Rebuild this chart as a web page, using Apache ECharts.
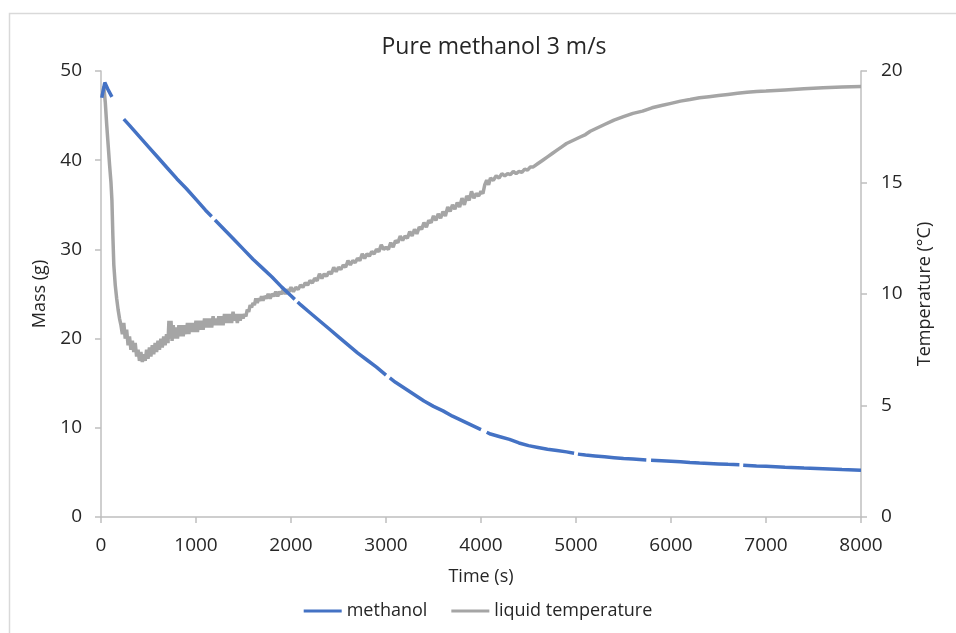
<!DOCTYPE html>
<html>
<head>
<meta charset="utf-8">
<title>Pure methanol 3 m/s</title>
<script src="https://cdn.jsdelivr.net/npm/echarts@6/dist/echarts.min.js"></script>
<style>
  html, body { margin: 0; padding: 0; background: #fff; }
  #chart { width: 956px; height: 633px; }
</style>
</head>
<body>
<div id="chart"></div>
<script>
// Axis ticks
const timeTicks = [0, 1000, 2000, 3000, 4000, 5000, 6000, 7000, 8000];
const massTicks = [0, 10, 20, 30, 40, 50];
const tempTicks = [0, 5, 10, 15, 20];

// Methanol mass (g) against time (s); null marks a logging gap
const methanolMass = [
  [8, 47.0], [40, 48.7], [70, 48.0], [115, 47.1], [170, null],
  [240, 44.6], [300, 43.9], [400, 42.7], [500, 41.5], [600, 40.3],
  [700, 39.1], [800, 37.9], [900, 36.8], [1000, 35.6], [1100, 34.4],
  [1165, 33.7], [1180, null], [1200, 33.3], [1300, 32.2], [1400, 31.1],
  [1500, 30.0], [1600, 28.9], [1700, 27.9], [1800, 26.9], [1900, 25.8],
  [2000, 24.8], [2040, 24.4], [2055, null], [2070, 24.1], [2100, 23.8],
  [2200, 22.9], [2300, 22.0], [2400, 21.1], [2500, 20.2], [2600, 19.3],
  [2700, 18.4], [2800, 17.6], [2900, 16.8], [3000, 15.9], [3015, null],
  [3040, 15.6], [3100, 15.1], [3200, 14.4], [3300, 13.7], [3400, 13.0],
  [3500, 12.4], [3600, 11.9], [3700, 11.3], [3800, 10.8], [3900, 10.3],
  [4000, 9.8], [4020, null], [4060, 9.5], [4100, 9.3], [4200, 9.0],
  [4300, 8.7], [4400, 8.3], [4500, 8.0], [4600, 7.8], [4700, 7.6],
  [4800, 7.45], [4900, 7.3], [4980, 7.15], [4995, null], [5020, 7.05],
  [5100, 6.95], [5200, 6.85], [5300, 6.75], [5400, 6.65], [5500, 6.55],
  [5600, 6.5], [5740, 6.4], [5760, null], [5790, 6.35], [5900, 6.3],
  [6000, 6.25], [6100, 6.2], [6200, 6.12], [6300, 6.05], [6400, 6.0],
  [6500, 5.95], [6600, 5.9], [6720, 5.85], [6740, null], [6760, 5.8],
  [6900, 5.72], [7000, 5.68], [7200, 5.57], [7400, 5.48], [7600, 5.4],
  [7800, 5.32], [8000, 5.25]
];

// Liquid temperature (°C) against time (s)
const liquidTemperature = [
  [15, 18.9], [30, 19.3], [45, 18.6], [60, 17.6], [75, 16.7], [90, 15.8],
  [105, 15.0], [115, 14.2], [125, 12.6], [135, 11.3], [150, 10.4], [165, 9.8],
  [180, 9.3], [195, 8.9], [210, 8.6], [225, 8.2], [240, 8.7], [255, 8.0],
  [270, 8.4], [285, 7.7], [300, 8.1], [315, 7.5], [330, 7.9], [345, 7.4],
  [360, 7.8], [375, 7.2], [390, 7.5], [405, 7.0], [420, 7.4], [435, 6.95],
  [450, 7.3], [465, 7.0], [480, 7.5], [495, 7.1], [510, 7.6], [525, 7.2],
  [540, 7.7], [555, 7.3], [570, 7.8], [585, 7.4], [600, 7.9], [615, 7.5],
  [630, 8.0], [645, 7.6], [660, 8.1], [675, 7.7], [690, 8.2], [705, 7.8],
  [715, 8.8], [725, 8.0], [737, 8.8], [748, 7.9], [760, 8.6], [775, 8.0],
  [790, 8.5], [805, 8.0], [820, 8.6], [835, 8.1], [850, 8.6], [865, 8.1],
  [880, 8.6], [895, 8.2], [910, 8.7], [925, 8.2], [940, 8.7], [955, 8.3],
  [970, 8.7], [985, 8.3], [1000, 8.8], [1015, 8.3], [1030, 8.8], [1045, 8.4],
  [1060, 8.8], [1075, 8.4], [1090, 8.9], [1105, 8.5], [1120, 8.9], [1135, 8.5],
  [1150, 8.9], [1165, 8.5], [1180, 9.0], [1195, 8.6], [1210, 8.9], [1225, 8.6],
  [1240, 9.0], [1255, 8.6], [1270, 9.0], [1285, 8.6], [1300, 9.1], [1315, 8.7],
  [1330, 9.1], [1345, 8.7], [1360, 9.1], [1375, 8.7], [1390, 9.2], [1405, 8.8],
  [1420, 9.1], [1435, 8.7], [1450, 9.1], [1465, 8.8], [1480, 9.1], [1495, 8.9],
  [1510, 9.1], [1525, 9.0], [1540, 9.3], [1555, 9.2], [1570, 9.5], [1585, 9.4],
  [1600, 9.6], [1615, 9.5], [1630, 9.8], [1645, 9.6], [1660, 9.8], [1675, 9.7],
  [1690, 9.9], [1705, 9.7], [1720, 9.9], [1740, 9.8], [1760, 10.0], [1780, 9.8],
  [1800, 10.0], [1820, 9.9], [1840, 10.1], [1860, 9.9], [1880, 10.1], [1900, 10.0],
  [1920, 10.2], [1940, 10.0], [1960, 10.2], [1980, 10.1], [2000, 10.3], [2025, 10.1],
  [2050, 10.3], [2075, 10.2], [2100, 10.4], [2125, 10.3], [2150, 10.5], [2175, 10.4],
  [2200, 10.6], [2225, 10.5], [2250, 10.7], [2275, 10.6], [2300, 10.9], [2325, 10.7],
  [2350, 10.9], [2375, 10.8], [2400, 11.0], [2425, 10.9], [2450, 11.2], [2475, 11.0],
  [2500, 11.2], [2525, 11.1], [2550, 11.3], [2575, 11.2], [2600, 11.5], [2625, 11.3],
  [2650, 11.5], [2675, 11.4], [2700, 11.6], [2725, 11.5], [2750, 11.8], [2775, 11.6],
  [2800, 11.8], [2825, 11.7], [2850, 11.9], [2875, 11.8], [2900, 12.0], [2925, 11.9],
  [2950, 12.2], [2975, 12.0], [3000, 12.1], [3025, 12.0], [3050, 12.3], [3075, 12.1],
  [3100, 12.4], [3125, 12.3], [3150, 12.6], [3175, 12.4], [3200, 12.6], [3225, 12.5],
  [3250, 12.8], [3275, 12.6], [3300, 12.9], [3325, 12.7], [3350, 13.0], [3375, 12.9],
  [3400, 13.2], [3425, 13.0], [3450, 13.3], [3475, 13.2], [3500, 13.5], [3525, 13.3],
  [3550, 13.6], [3575, 13.4], [3600, 13.7], [3625, 13.5], [3650, 13.9], [3675, 13.7],
  [3700, 14.0], [3725, 13.8], [3750, 14.1], [3775, 13.9], [3800, 14.3], [3825, 14.0],
  [3850, 14.4], [3875, 14.2], [3900, 14.6], [3925, 14.3], [3950, 14.5], [3975, 14.4],
  [4000, 14.6], [4020, 14.5], [4040, 14.9], [4060, 15.1], [4080, 14.9], [4100, 15.2],
  [4130, 15.1], [4160, 15.3], [4190, 15.2], [4220, 15.4], [4250, 15.3], [4280, 15.4],
  [4310, 15.35], [4340, 15.5], [4370, 15.4], [4400, 15.5], [4430, 15.45], [4460, 15.6],
  [4490, 15.55], [4520, 15.7], [4550, 15.7], [4600, 15.85], [4650, 16.0], [4700, 16.15],
  [4750, 16.3], [4800, 16.45], [4850, 16.6], [4900, 16.75], [4950, 16.85], [5000, 16.95],
  [5050, 17.05], [5100, 17.15], [5150, 17.3], [5200, 17.4], [5300, 17.6], [5400, 17.8],
  [5500, 17.95], [5600, 18.1], [5700, 18.2], [5800, 18.35], [5900, 18.45], [6000, 18.55],
  [6100, 18.65], [6200, 18.72], [6300, 18.8], [6400, 18.85], [6500, 18.9], [6600, 18.95],
  [6700, 19.0], [6800, 19.05], [6900, 19.08], [7000, 19.1], [7200, 19.15], [7400, 19.2],
  [7600, 19.25], [7800, 19.28], [8000, 19.3]
];

const FONT = 'Open Sans';
const TEXT = '#262626';
const AXIS = '#bfbfbf';

function step(ticks) { return ticks[1] - ticks[0]; }
const plain = v => String(v);

const chart = echarts.init(document.getElementById('chart'), null, { renderer: 'canvas' });

chart.setOption({
  backgroundColor: '#ffffff',
  animation: false,
  textStyle: { fontFamily: FONT, color: TEXT },
  graphic: [{
    type: 'rect',
    shape: { x: 9.5, y: 13.5, width: 1000, height: 700 },
    style: { fill: 'none', stroke: '#d9d9d9', lineWidth: 1.5 },
    silent: true, z: -1
  }],
  title: {
    text: 'Pure methanol 3 m/s',
    left: 489, top: 31, textAlign: 'center',
    textStyle: { fontFamily: FONT, fontSize: 23, fontWeight: 'normal', color: TEXT }
  },
  legend: {
    bottom: 8,
    left: 'center',
    itemWidth: 38, itemHeight: 3, itemGap: 24,
    icon: 'rect',
    textStyle: { fontFamily: FONT, fontSize: 18, color: TEXT },
    data: ['methanol', 'liquid temperature']
  },
  grid: { left: 101, right: 95, top: 71, bottom: 116, containLabel: false },
  xAxis: {
    type: 'value',
    min: timeTicks[0], max: timeTicks[timeTicks.length - 1], interval: step(timeTicks),
    name: 'Time (s)', nameLocation: 'middle', nameGap: 51,
    nameTextStyle: { fontFamily: FONT, fontSize: 18, color: TEXT },
    axisLine: { lineStyle: { color: AXIS, width: 1.5 } },
    axisTick: { show: true, inside: false, length: 6, lineStyle: { color: AXIS, width: 1.5 } },
    axisLabel: { fontFamily: FONT, fontSize: 19, color: TEXT, margin: 19, formatter: plain },
    splitLine: { show: false }
  },
  yAxis: [{
    type: 'value', position: 'left',
    min: massTicks[0], max: massTicks[massTicks.length - 1], interval: step(massTicks),
    name: 'Mass (g)', nameLocation: 'middle', nameGap: 48, nameRotate: 90,
    nameTextStyle: { fontFamily: FONT, fontSize: 18, color: TEXT },
    axisLine: { show: true, lineStyle: { color: AXIS, width: 1.5 } },
    axisTick: { show: true, inside: false, length: 6, lineStyle: { color: AXIS, width: 1.5 } },
    axisLabel: { fontFamily: FONT, fontSize: 19, color: TEXT, margin: 19, formatter: plain },
    splitLine: { show: false }
  }, {
    type: 'value', position: 'right',
    min: tempTicks[0], max: tempTicks[tempTicks.length - 1], interval: step(tempTicks),
    name: 'Temperature (°C)', nameLocation: 'middle', nameGap: 55, nameRotate: 90,
    nameTextStyle: { fontFamily: FONT, fontSize: 18, color: TEXT },
    axisLine: { show: true, lineStyle: { color: AXIS, width: 1.5 } },
    axisTick: { show: true, inside: false, length: 6, lineStyle: { color: AXIS, width: 1.5 } },
    axisLabel: { fontFamily: FONT, fontSize: 19, color: TEXT, margin: 20, formatter: plain },
    splitLine: { show: false }
  }],
  series: [{
    name: 'methanol',
    type: 'line',
    yAxisIndex: 0,
    data: methanolMass,
    showSymbol: false, symbol: 'none',
    connectNulls: false,
    lineStyle: { color: '#4472c4', width: 3.5 },
    itemStyle: { color: '#4472c4' },
    z: 3
  }, {
    name: 'liquid temperature',
    type: 'line',
    yAxisIndex: 1,
    data: liquidTemperature,
    showSymbol: false, symbol: 'none',
    lineStyle: { color: '#a5a5a5', width: 3.5 },
    itemStyle: { color: '#a5a5a5' },
    z: 2
  }]
});
</script>
</body>
</html>
